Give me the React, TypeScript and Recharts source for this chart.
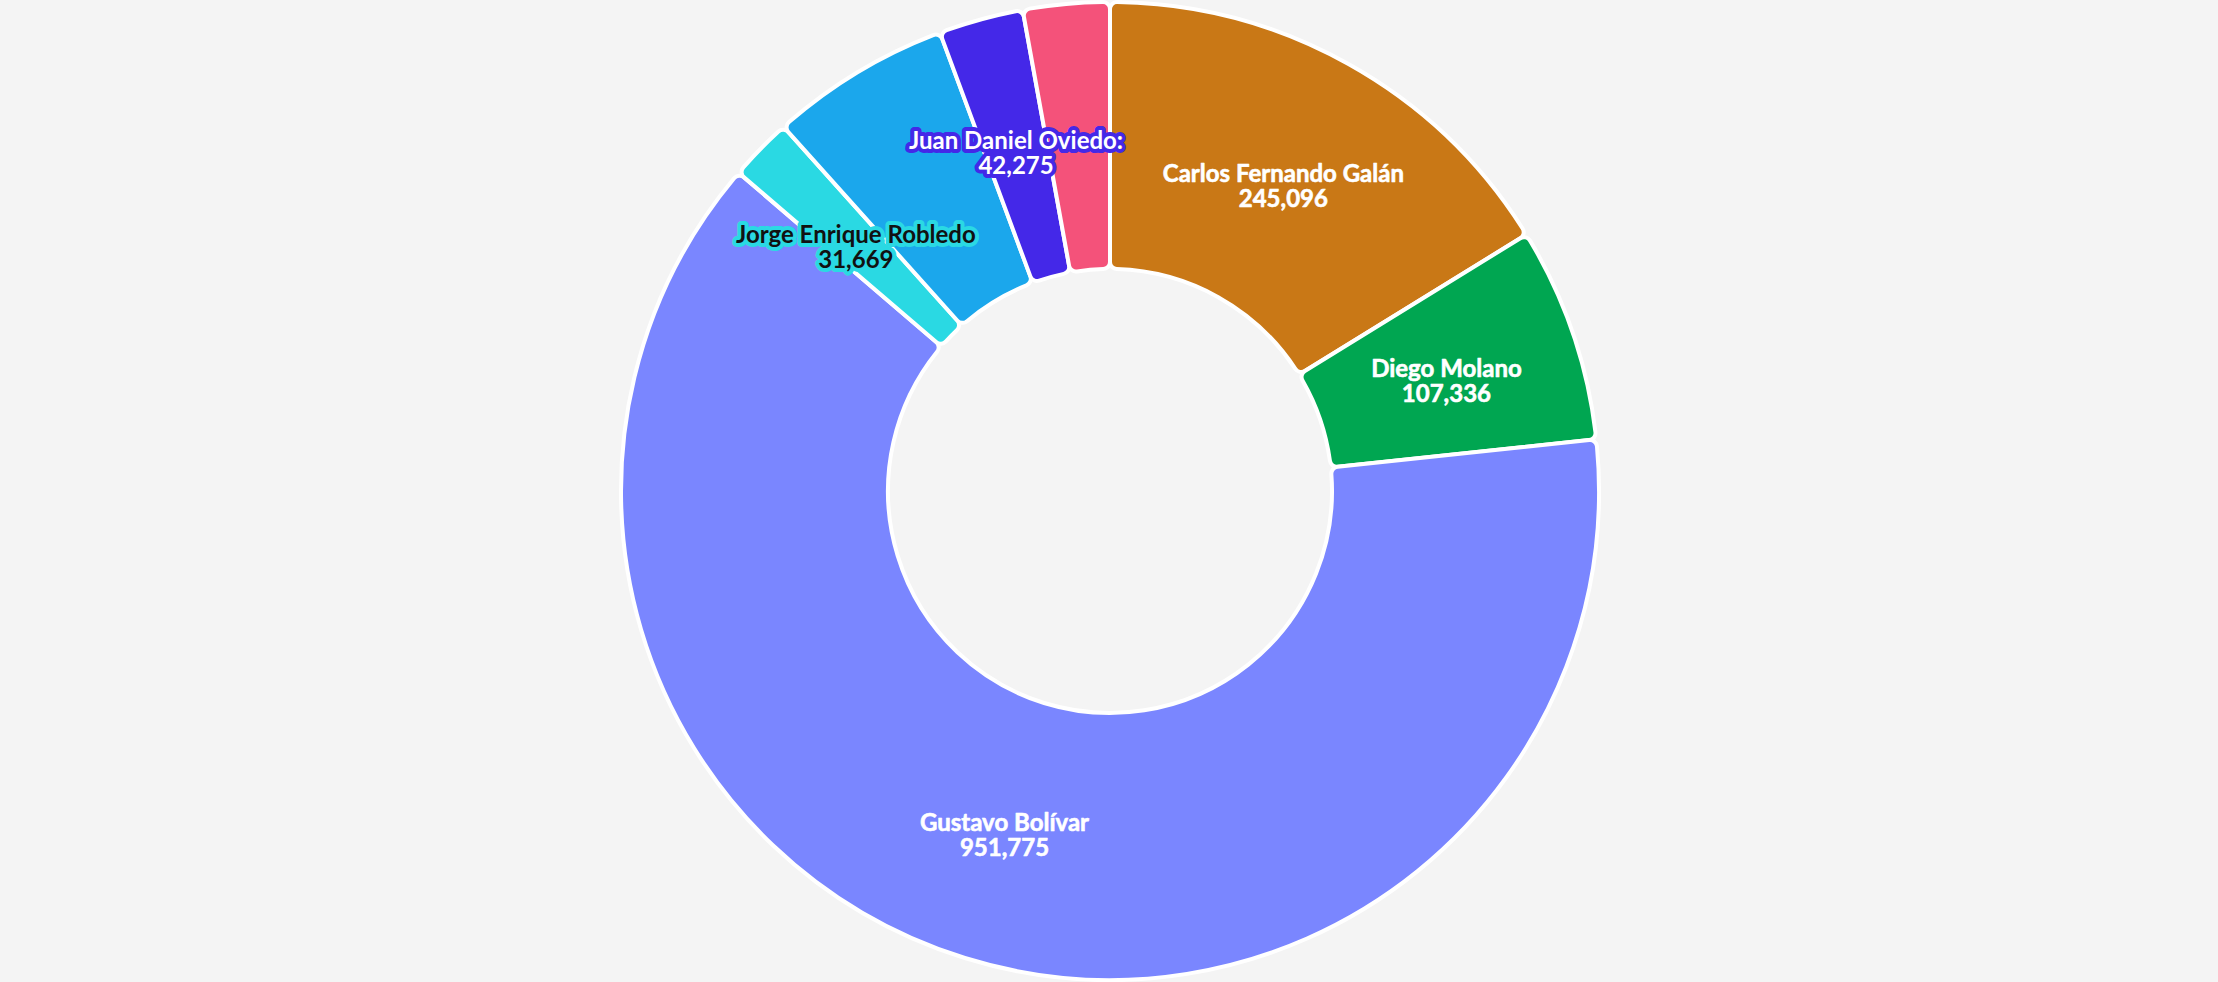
import { PieChart, Pie, Cell } from "recharts";

document.body.style.margin = "0";

const candidates = [
  "Carlos Fernando Galán",
  "Diego Molano",
  "Gustavo Bolívar",
  "Jorge Enrique Robledo",
  "Otro A",
  "Juan Daniel Oviedo:",
  "Otro B",
];
const votes = [245096, 107336, 951775, 31669, 90300, 42275, 43200];
const showLabel = [true, true, true, true, false, true, false];

const colors = ["#C97816", "#00A651", "#7A86FF", "#2AD9E3", "#1BA7EC", "#4428E8", "#F4527A"];
// text fill / outline colour for each label
const labelFill = ["#fff", "#fff", "#fff", "#111", "#fff", "#fff", "#fff"];
const labelHalo = ["none", "none", "none", "#2AD9E3", "none", "#4428E8", "none"];

const data = candidates.map((name, i) => ({ name, value: votes[i] }));

const RAD = Math.PI / 180;
const fmt = (v: number) => v.toLocaleString("en-US");

function SliceLabel(props: any) {
  const { cx, cy, midAngle, innerRadius, outerRadius, index, value, name } = props;
  if (!showLabel[index]) return null;
  const r = (innerRadius + outerRadius) / 2;
  const x = cx + r * Math.cos(-midAngle * RAD);
  const y = cy + r * Math.sin(-midAngle * RAD);
  const halo = labelHalo[index];
  return (
    <text
      x={x} y={y} textAnchor="middle"
      fill={labelFill[index]}
      stroke={halo === "none" ? labelFill[index] : halo}
      strokeWidth={halo === "none" ? 0.6 : 8}
      strokeLinejoin="round"
      style={{ paintOrder: "stroke", fontFamily: "Lato, 'Noto Sans', sans-serif", fontWeight: 700, fontSize: 24 }}
    >
      <tspan x={x} dy={1}>{name}</tspan>
      <tspan x={x} dy={25}>{fmt(value)}</tspan>
    </text>
  );
}

export default function App() {
  return (
    <div style={{ width: 2218, height: 982, background: "#F4F4F4", overflow: "hidden" }}>
      <PieChart width={2218} height={982} margin={{ top: 0, right: 0, bottom: 0, left: 0 }}>
        <Pie
          data={data} dataKey="value" nameKey="name"
          cx={1110} cy={491} innerRadius={222} outerRadius={489}
          startAngle={90} endAngle={-270}
          cornerRadius={7}
          stroke="#ffffff" strokeWidth={4}
          label={SliceLabel} labelLine={false}
          isAnimationActive={false}
        >
          {data.map((d, i) => <Cell key={d.name} fill={colors[i]} />)}
        </Pie>
      </PieChart>
    </div>
  );
}
